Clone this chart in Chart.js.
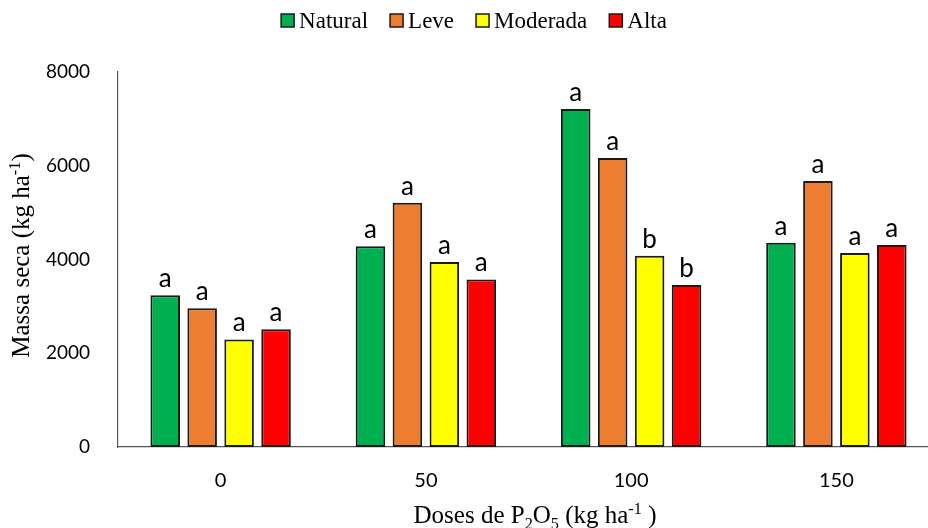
<!DOCTYPE html>
<html>
<head>
<meta charset="utf-8">
<script src="https://cdn.jsdelivr.net/npm/chart.js@4.4.1/dist/chart.umd.min.js"></script>
<style>
  html, body { margin: 0; padding: 0; background: #fff; overflow: hidden; }
  #wrap { width: 945px; height: 528px; }
</style>
</head>
<body>
<div id="wrap"><canvas id="grafico" width="945" height="528"></canvas></div>
<script>
// doses de P2O5 e massa seca por nível
const doses = ['0', '50', '100', '150'];
const natural = [3240, 4285, 7210, 4355];
const leve = [2960, 5210, 6165, 5675];
const moderada = [2295, 3945, 4080, 4140];
const alta = [2510, 3575, 3455, 4310];
const letrasNatural = ['a', 'a', 'a', 'a'];
const letrasLeve = ['a', 'a', 'a', 'a'];
const letrasModerada = ['a', 'a', 'b', 'a'];
const letrasAlta = ['a', 'a', 'b', 'a'];
const yTicks = [0, 2000, 4000, 6000, 8000];

const serie = [
  { label: 'Natural', data: natural, letras: letrasNatural, cor: '#00B050' },
  { label: 'Leve', data: leve, letras: letrasLeve, cor: '#ED7D31' },
  { label: 'Moderada', data: moderada, letras: letrasModerada, cor: '#FFFF00' },
  { label: 'Alta', data: alta, letras: letrasAlta, cor: '#FF0000' }
];

const SERIF = '"Liberation Serif", "Times New Roman", serif';
const SANS = 'Lato, "Open Sans", sans-serif';

// escreve texto com partes em subscrito / sobrescrito
function textoRico(ctx, partes, x, y, tam, alinhar) {
  const medir = p => {
    ctx.font = `${p.s ? tam * 0.65 : tam}px ${SERIF}`;
    return ctx.measureText(p.t).width;
  };
  const total = partes.reduce((w, p) => w + medir(p), 0);
  let cx = alinhar === 'center' ? x - total / 2 : x;
  ctx.textAlign = 'left';
  ctx.textBaseline = 'alphabetic';
  partes.forEach(p => {
    const w = medir(p);
    const dy = p.s === 'sub' ? tam * 0.22 : p.s === 'sup' ? -tam * 0.38 : 0;
    ctx.fillText(p.t, cx, y + dy);
    cx += w;
  });
}

const letrasPlugin = {
  id: 'letras',
  afterDatasetsDraw(chart) {
    const ctx = chart.ctx;
    ctx.save();
    ctx.font = `26px ${SANS}`;
    ctx.fillStyle = '#000';
    ctx.textAlign = 'center';
    ctx.textBaseline = 'alphabetic';
    chart.data.datasets.forEach((ds, i) => {
      chart.getDatasetMeta(i).data.forEach((bar, j) => {
        ctx.fillText(ds.letras[j], bar.x, bar.y - 8);
      });
    });
    ctx.restore();
  }
};

const textosPlugin = {
  id: 'textos',
  afterDraw(chart) {
    const ctx = chart.ctx;
    const area = chart.chartArea;
    ctx.save();
    ctx.fillStyle = '#000';

    // legenda
    const fonteLeg = `23px ${SERIF}`;
    ctx.font = fonteLeg;
    const box = 13, gapBox = 5, gapItem = 22;
    const larguras = serie.map(s => box + gapBox + ctx.measureText(s.label).width);
    const total = larguras.reduce((a, b) => a + b, 0) + gapItem * (serie.length - 1);
    let lx = 474 - total / 2;
    serie.forEach((s, i) => {
      ctx.fillStyle = s.cor;
      ctx.fillRect(lx, 14, box, box);
      ctx.strokeStyle = '#1a1a1a';
      ctx.lineWidth = 1.5;
      ctx.strokeRect(lx, 14, box, box);
      ctx.fillStyle = '#000';
      ctx.font = fonteLeg;
      ctx.textAlign = 'left';
      ctx.textBaseline = 'alphabetic';
      ctx.fillText(s.label, lx + box + gapBox, 28);
      lx += larguras[i] + gapItem;
    });

    // título do eixo x
    textoRico(ctx, [
      { t: 'Doses de P' }, { t: '2', s: 'sub' }, { t: 'O' }, { t: '5', s: 'sub' },
      { t: ' (kg ha' }, { t: '-1', s: 'sup' }, { t: ' )' }
    ], 535, 523, 25, 'center');

    // título do eixo y
    ctx.translate(29, (area.top + area.bottom) / 2 - 4);
    ctx.rotate(-Math.PI / 2);
    textoRico(ctx, [
      { t: 'Massa seca (kg ha' }, { t: '-1', s: 'sup' }, { t: ')' }
    ], 0, 0, 25, 'center');
    ctx.restore();
  }
};

new Chart(document.getElementById('grafico'), {
  type: 'bar',
  data: {
    labels: doses,
    datasets: serie.map(s => ({
      label: s.label,
      data: s.data,
      letras: s.letras,
      backgroundColor: s.cor,
      borderColor: '#1a1a1a',
      borderWidth: 2,
      borderSkipped: false,
      categoryPercentage: 0.72,
      barPercentage: 0.8
    }))
  },
  options: {
    responsive: false,
    animation: false,
    layout: { padding: { top: 72, right: 6, left: 0, bottom: 0 } },
    plugins: {
      legend: { display: false },
      tooltip: { enabled: false }
    },
    scales: {
      x: {
        grid: { display: false, drawTicks: false },
        border: { display: true, color: '#555', width: 1.2 },
        ticks: { color: '#000', font: { family: SANS, size: 20 }, padding: 22 },
        afterFit(s) { s.height = 81; }
      },
      y: {
        min: 0,
        max: 8000,
        afterBuildTicks(s) { s.ticks = yTicks.map(v => ({ value: v })); },
        grid: { display: false, drawTicks: false },
        border: { display: true, color: '#555', width: 1.2 },
        ticks: {
          color: '#000',
          font: { family: SANS, size: 19 },
          padding: 28,
          callback: v => String(v)
        },
        afterFit(s) { s.width = 118; }
      }
    }
  },
  plugins: [letrasPlugin, textosPlugin]
});
</script>
</body>
</html>
